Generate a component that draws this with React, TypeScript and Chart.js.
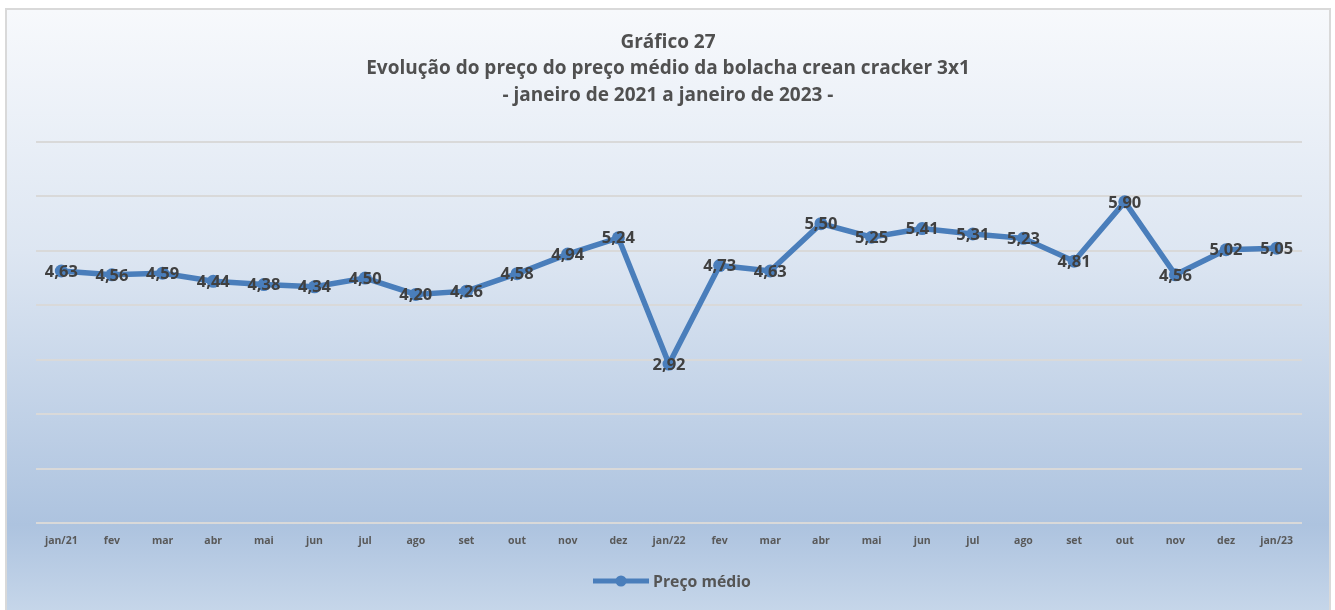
import React, { useEffect, useRef } from "react";
import { Chart, registerables } from "chart.js";

Chart.register(...registerables);

const titleLines = [
  "Gráfico 27",
  "Evolução do preço do preço médio da bolacha crean cracker 3x1",
  "- janeiro de 2021 a janeiro de 2023 -",
];
const categories = [
  "jan/21", "fev", "mar", "abr", "mai", "jun", "jul", "ago", "set", "out", "nov", "dez",
  "jan/22", "fev", "mar", "abr", "mai", "jun", "jul", "ago", "set", "out", "nov", "dez", "jan/23",
];
const precoMedio = [
  4.63, 4.56, 4.59, 4.44, 4.38, 4.34, 4.5, 4.2, 4.26, 4.58, 4.94, 5.24,
  2.92, 4.73, 4.63, 5.5, 5.25, 5.41, 5.31, 5.23, 4.81, 5.9, 4.56, 5.02, 5.05,
];
const seriesName = "Preço médio";
const yMin = 0;
const yMax = 7;

const LINE = "#4a7ebb";
const FONT = "'Open Sans', 'Noto Sans', sans-serif";

const decorPlugin = {
  id: "decor",
  afterDatasetsDraw(chart: any) {
    const ctx = chart.ctx;
    const meta = chart.getDatasetMeta(0);
    ctx.save();
    // data labels
    ctx.font = `bold 16.5px ${FONT}`;
    ctx.fillStyle = "#404040";
    ctx.textAlign = "center";
    ctx.textBaseline = "middle";
    meta.data.forEach((pt: any, i: number) => {
      const txt = precoMedio[i].toFixed(2).replace(".", ",");
      ctx.fillText(txt, pt.x, pt.y + 1);
    });
    // title
    ctx.fillStyle = "#505050";
    ctx.font = `bold 19px ${FONT}`;
    const ys = [43, 69, 96];
    titleLines.forEach((t, i) => ctx.fillText(t, 668, ys[i]));
    // legend
    const ly = 581;
    ctx.strokeStyle = LINE;
    ctx.lineWidth = 5;
    ctx.beginPath();
    ctx.moveTo(593, ly);
    ctx.lineTo(649, ly);
    ctx.stroke();
    ctx.fillStyle = LINE;
    ctx.beginPath();
    ctx.arc(621, ly, 5.5, 0, Math.PI * 2);
    ctx.fill();
    ctx.fillStyle = "#555555";
    ctx.font = `bold 15.8px ${FONT}`;
    ctx.textAlign = "left";
    ctx.fillText(seriesName, 653, ly + 1);
    ctx.restore();
  },
};

export default function App() {
  const ref = useRef<HTMLCanvasElement>(null);
  useEffect(() => {
    if (!ref.current) return;
    const chart = new Chart(ref.current, {
      type: "line",
      data: {
        labels: categories,
        datasets: [
          {
            label: seriesName,
            data: precoMedio,
            borderColor: LINE,
            backgroundColor: LINE,
            borderWidth: 5.5,
            pointRadius: 6.5,
            pointBorderWidth: 0,
            pointBackgroundColor: LINE,
            tension: 0,
          },
        ],
      },
      options: {
        animation: false,
        responsive: false,
        maintainAspectRatio: false,
        layout: { padding: { left: 36, right: 33, top: 142, bottom: 0 } },
        plugins: {
          legend: { display: false },
          title: { display: false },
          tooltip: { enabled: false },
        },
        scales: {
          x: {
            offset: true,
            grid: { display: false, drawTicks: false },
            border: { display: false },
            ticks: {
              color: "#595959",
              font: { family: FONT, size: 10.5, weight: "bold" },
              padding: 12,
              maxRotation: 0,
              autoSkip: false,
            },
            afterFit: (s: any) => {
              s.height = 87;
            },
          },
          y: {
            min: yMin,
            max: yMax,
            ticks: { display: false, stepSize: 1 },
            grid: { color: "#d9d9d9", lineWidth: 2, drawTicks: false },
            border: { display: false },
            afterFit: (s: any) => {
              s.width = 0;
            },
          },
        },
      },
      plugins: [decorPlugin],
    });
    return () => chart.destroy();
  }, []);
  return (
    <div style={{ position: "fixed", left: 0, top: 0, width: 1335, height: 610, background: "#fff" }}>
      <div
        style={{
          position: "absolute",
          left: 5,
          top: 8,
          width: 1326,
          height: 610,
          border: "2px solid #d9d9d9",
          boxSizing: "border-box",
          background: "linear-gradient(to bottom, #f7f9fc 0%, #dde6f2 40%, #adc3df 85%, #c7d7ea 100%)",
        }}
      />
      <canvas ref={ref} width={1335} height={610} style={{ position: "absolute", left: 0, top: 0 }} />
    </div>
  );
}
